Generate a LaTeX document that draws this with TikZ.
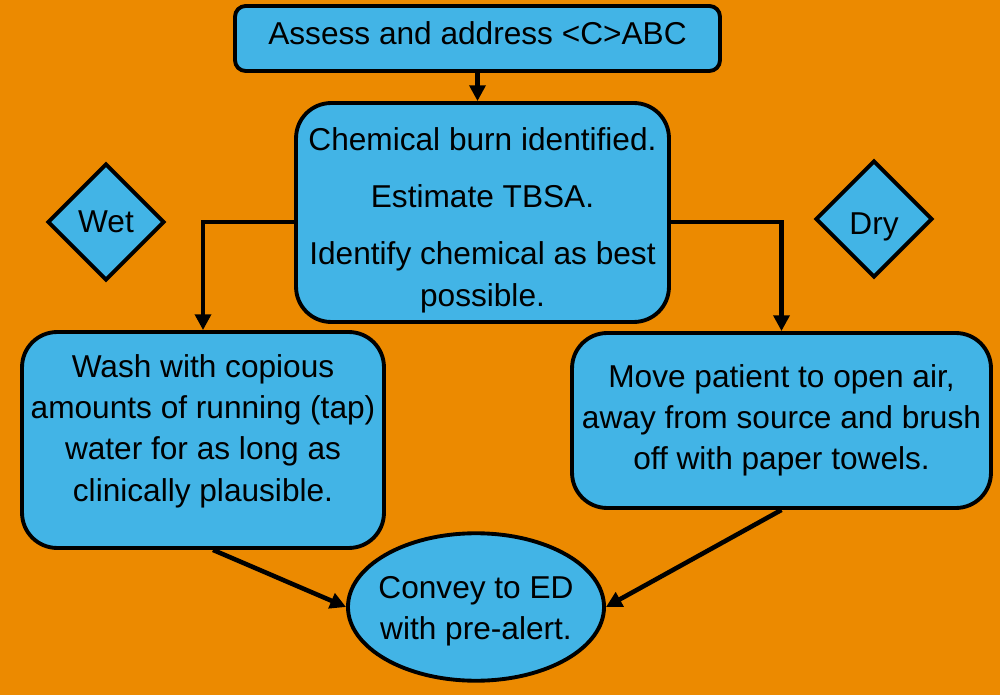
\documentclass[tikz,border=0pt]{standalone}
\usepackage{fontspec}
\setmainfont{Liberation Sans}
\usetikzlibrary{positioning,arrows.meta,calc,shapes.geometric}
\definecolor{bgorange}{RGB}{236,138,0}
\definecolor{boxblue}{RGB}{66,180,230}
\newcommand\padtop[1]{\rule{0pt}{#1}}
\newcommand\padbot[1]{\rule[-#1]{0pt}{#1}}
\tikzset{
  blk/.style={draw,line width=2.2pt,fill=boxblue,align=center,inner sep=0pt,font=\fontsize{18pt}{23.5pt}\selectfont},
  rblk/.style={blk,rounded corners=20pt},
  sblk/.style={blk,rounded corners=6pt},
  dia/.style={blk,diamond,minimum width=2.34cm,minimum height=2.34cm},
  oval/.style={blk,ellipse,inner xsep=-4pt},
  ar/.style={-{Triangle[length=9pt,width=9pt]},line width=2.6pt},
}

\begin{document}
\begin{tikzpicture}[x=0.02cm,y=-0.02cm]
  \fill[bgorange] (0,0) rectangle (1000,695);
  \node[sblk,minimum width=9.7cm,minimum height=1.3cm] (assess) at (477.5,38.5) {Assess and address <C>ABC\padbot{6pt}};
  \node[rblk,minimum width=7.46cm,minimum height=4.38cm] (chem) at (482.5,212.5)
    {\padtop{22pt}Chemical burn identified.\\[9pt] Estimate TBSA.\\[9pt] Identify chemical as best\\ possible.};
  \node[dia] (wet) at (106,222) {Wet};
  \node[dia] (dry) at (874,219) {\padtop{21pt}Dry};
  \node[rblk,minimum width=7.24cm,minimum height=4.32cm] (wash) at (203,440)
    {Wash with copious\\ amounts of running (tap)\\ water for as long as\\ clinically plausible.\padbot{14pt}};
  \node[rblk,minimum width=8.38cm,minimum height=3.5cm] (move) at (781.5,420.5)
    {Move patient to open air,\\ away from source and brush\\ off with paper towels.};
  \node[oval,minimum width=5.0cm,minimum height=2.95cm] (convey) at (476,607)
    {\padtop{17.7pt}Convey to ED\\ with pre-alert.};
  % connectors
  \draw[ar] (assess.south) -- (assess.south |- chem.north);
  \draw[ar] (chem.west |- wet) -| (wash.north);
  \draw[ar] (chem.east |- wet) -| (move.north);
  \draw[ar] ($(wash.south)+(10,0)$) -- (convey.west);
  \draw[ar] (move.south) -- (convey.east);
\end{tikzpicture}
\end{document}
